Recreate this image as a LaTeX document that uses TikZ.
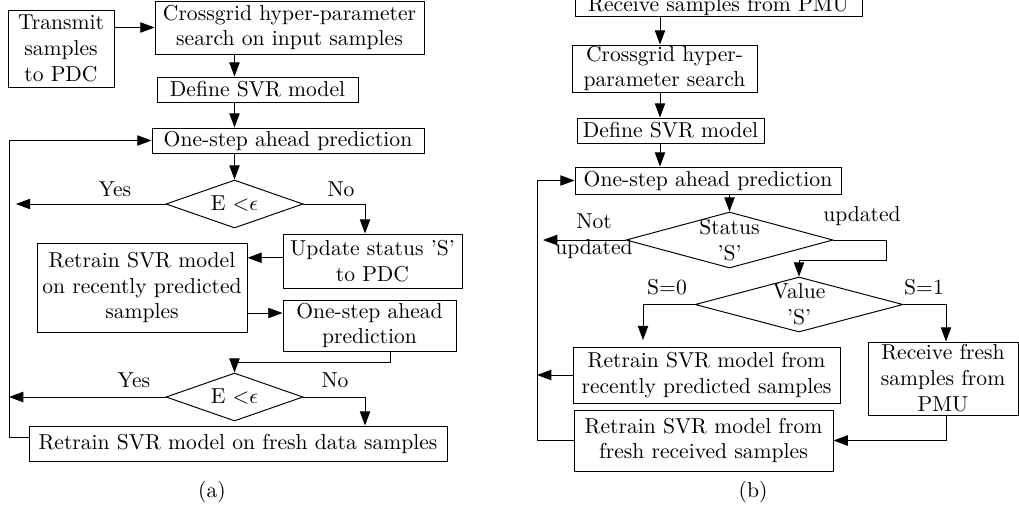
\documentclass[tikz,border=0pt]{standalone}
\usetikzlibrary{arrows.meta,shapes.geometric}
% one drawing unit
\def\pxu{0.463pt}
\begin{document}
\begin{tikzpicture}[x=\pxu, y=-\pxu,
  blk/.style 2 args={draw, line width=0.45pt, inner sep=0pt, align=center,
    minimum width={#1*\pxu}, minimum height={#2*\pxu}},
  dec/.style 2 args={draw, line width=0.45pt, diamond, inner sep=0pt,
    minimum width={#1*\pxu}, minimum height={#2*\pxu}},
  lbl/.style={inner sep=0pt, align=center},
  arr/.style={line width=0.45pt, -{Triangle[length=6.6pt,width=4.8pt]}}]
\useasboundingbox (0,0) rectangle (1019,509);
\clip (0,0) rectangle (1019,509);

% ---------------- (a) ----------------
\node[blk={106}{77}] (trans) at (61,48.5) {Transmit\\samples\\to PDC};
\node[blk={269}{53}] (cross1) at (289.5,27.5) {Crossgrid hyper-parameter\\search on input samples};
\node[blk={201}{25}] (def1) at (257.5,89.5) {Define SVR model};
\node[blk={272}{25}] (os1) at (288,140.5) {One-step ahead prediction};
\node[dec={137}{48}, label={[lbl]center:{E $<$$\epsilon$}}] (d1) at (234.5,204) {};
\node[lbl] (yes1) at (115,189) {Yes};
\node[lbl] (no1) at (341,189) {No};
\node[blk={179}{54}] (upd) at (372.5,261) {Update status 'S'\\to PDC};
\node[blk={210}{89}] (rr1) at (142,287.5) {Retrain SVR model\\on recently predicted\\samples};
\node[blk={173}{51}] (os2) at (369.5,325.5) {One-step ahead\\prediction};
\node[dec={137}{48}, label={[lbl]center:{E $<$$\epsilon$}}] (d2) at (234.5,397) {};
\node[lbl] (yes2) at (134,380) {Yes};
\node[lbl] (no2) at (335,380) {No};
\node[blk={418}{35}] (fresh1) at (238,443.5) {Retrain SVR model on fresh data samples};
\node[lbl] (capa) at (212,492) {(a)};

\coordinate (lxa) at (9,0);
\coordinate (xb) at (365,0);
\coordinate (yc) at (0,313);
\coordinate (xd) at (390,0);
\coordinate (ye) at (0,362);

\draw[arr] (trans.east |- cross1.west) -- (cross1.west);
\draw[arr] (cross1.south -| d1.north) -- (def1.north -| d1.north);
\draw[arr] (def1.south -| d1.north) -- (os1.north -| d1.north);
\draw[arr] (os1.south -| d1.north) -- (d1.north);
\draw[arr, shorten >=3.2pt] (d1.west) -- (d1.west -| lxa);
\draw[arr] (d1.east) -| (upd.north -| xb);
\draw[arr] ([yshift=1.5pt]upd.west) -- ([yshift=1.5pt]upd.west -| rr1.east);
\draw[arr] (rr1.east |- yc) -- (os2.west |- yc);
\draw[arr] (os2.south -| xd) |- (d2.north |- ye) -- (d2.north);
\draw[arr] (d2.west) -- (d2.west -| lxa);
\draw[arr] (d2.east) -| (fresh1.north -| xb);
\draw[arr] ([yshift=3pt]fresh1.west) -| (os1.west -| lxa) -- (os1.west);

% ---------------- (b) ----------------
\node[blk={287}{25}, text height=9.7pt, text depth=1.9pt] (recv) at (718.5,3.5) {Receive samples from PMU};
\node[blk={185}{47}] (cross2) at (664.5,68.5) {Crossgrid hyper-\\parameter search};
\node[blk={187}{25}] (def2) at (670.5,130.5) {Define SVR model};
\node[blk={266}{27}] (os3) at (708,180.5) {One-step ahead prediction};
\node[dec={207}{56}, label={[lbl]center:{Status\\'S'}}] (d3) at (729.5,240) {};
\node[lbl] (notupd) at (594,236) {Not\\updated};
\node[lbl] (upd2) at (862,216) {updated};
\node[dec={208}{55}, label={[lbl]center:{Value\\'S'}}] (d4) at (799,304.5) {};
\node[lbl] (s0) at (667,287) {S=0};
\node[lbl] (s1) at (924,287) {S=1};
\node[blk={267}{56}] (rr2) at (706.5,375) {Retrain SVR model from\\recently predicted samples};
\node[blk={150}{73}] (rf) at (943,378.5) {Receive fresh\\samples from\\PMU};
\node[blk={259}{61}] (fr2) at (703.5,440.5) {Retrain SVR model from\\fresh received samples};
\node[lbl] (capb) at (753,492) {(b)};

\coordinate (xbx) at (660,0);
\coordinate (lxb) at (537,0);
\coordinate (jr) at (886,260);
\coordinate (xs0) at (643,0);
\coordinate (xs1) at (946,0);

\draw[arr] (recv.south -| xbx) -- (cross2.north -| xbx);
\draw[arr] (cross2.south -| xbx) -- (def2.north -| xbx);
\draw[arr] (def2.south -| xbx) -- (os3.north -| xbx);
\draw[arr] (os3.south -| d3.north) -- (d3.north);
\draw[arr, shorten >=2.8pt] (d3.west) -- (d3.west -| lxb);
\draw[arr] (d3.east) -| (jr) -| (d4.north);
\draw[arr, shorten >=3pt] (d4.west) -| (rr2.north -| xs0);
\draw[arr] (d4.east) -| (rf.north -| xs1);
\draw[arr] (rr2.west) -- (rr2.west -| lxb);
\draw[arr] (rf.south -| xs1) |- (fr2.east);
\draw[arr] (fr2.west) -| (os3.west -| lxb) -- (os3.west);
\end{tikzpicture}
\end{document}
